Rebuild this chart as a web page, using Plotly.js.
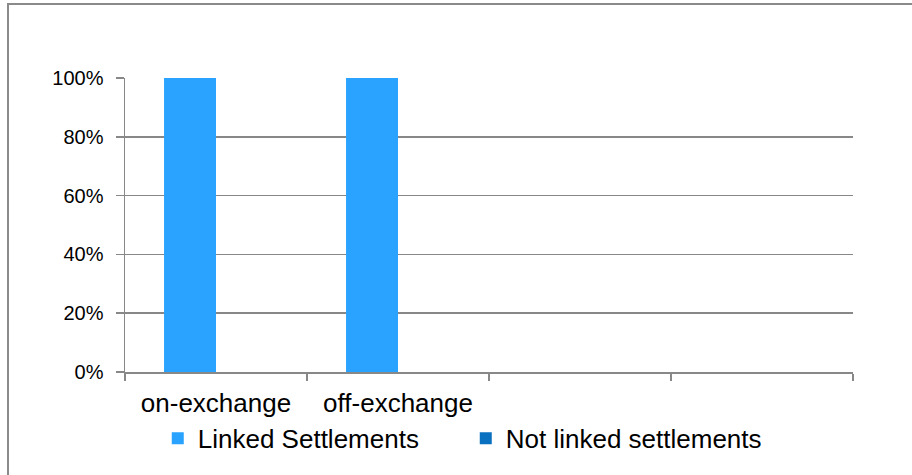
<!DOCTYPE html>
<html>
<head>
<meta charset="utf-8">
<script src="https://cdn.plot.ly/plotly-3.0.1.min.js"></script>
<style>
  html, body { margin: 0; padding: 0; background: #ffffff; }
  #wrap { position: relative; width: 912px; height: 475px; overflow: hidden; }
  #chart { width: 912px; height: 475px; }
  #frame { position: absolute; left: 7px; top: 3px; width: 920px; height: 480px;
           border-left: 2px solid #8a8a8a; border-top: 2px solid #8a8a8a; pointer-events: none; }
</style>
</head>
<body>
<div id="wrap">
  <div id="chart"></div>
  <div id="frame"></div>
</div>
<script>
const categories = ["on-exchange", "off-exchange", " ", "  "];
const linkedSettlements = [1, 1, null, null];
const notLinkedSettlements = [0, 0, null, null];
const yTickVals = [0, 0.2, 0.4, 0.6, 0.8, 1];
const yTickText = ["0%", "20%", "40%", "60%", "80%", "100%"];

const font = { family: "Liberation Sans, Arial, sans-serif", size: 20, color: "#000000" };

const traces = [
  { type: "bar", name: "Linked Settlements", x: categories, y: linkedSettlements,
    marker: { color: "#29a3ff" }, hoverinfo: "skip" },
  { type: "bar", name: "Not linked settlements", x: categories, y: notLinkedSettlements,
    marker: { color: "#0a70c0" }, hoverinfo: "skip" }
];

const layout = {
  width: 912, height: 475,
  margin: { l: 125, r: 59, t: 78, b: 103, pad: 0 },
  paper_bgcolor: "#ffffff", plot_bgcolor: "#ffffff",
  font: font,
  barmode: "group", bargap: 0.429, bargroupgap: 0,
  showlegend: true,
  legend: { orientation: "h", x: 0.045, xanchor: "left", y: -0.146, yanchor: "top",
            bgcolor: "rgba(0,0,0,0)", borderwidth: 0,
            font: { family: font.family, size: 26, color: "#000" },
            entrywidth: 263, entrywidthmode: "pixels", itemwidth: 30, traceorder: "normal" },
  xaxis: {
    type: "category", categoryorder: "array", categoryarray: categories,
    range: [-0.5, 3.5], fixedrange: true,
    showline: true, linecolor: "#888888", linewidth: 1.5,
    ticks: "outside", tickson: "boundaries", ticklen: 7, tickcolor: "#888888", tickwidth: 1.5,
    showgrid: false, zeroline: false, ticklabelstandoff: 7,
    tickfont: { family: font.family, size: 26, color: "#000" }
  },
  yaxis: {
    range: [0, 1], fixedrange: true,
    tickvals: yTickVals, ticktext: yTickText,
    showline: true, linecolor: "#888888", linewidth: 1.5,
    ticks: "outside", ticklen: 8, tickcolor: "#888888", tickwidth: 1.5,
    showgrid: true, gridcolor: "#888888", gridwidth: 1.5,
    zeroline: false, ticklabelstandoff: 8,
    tickfont: { family: font.family, size: 20, color: "#000" }
  }
};

Plotly.newPlot("chart", traces, layout, { staticPlot: true, displayModeBar: false });
</script>
</body>
</html>
